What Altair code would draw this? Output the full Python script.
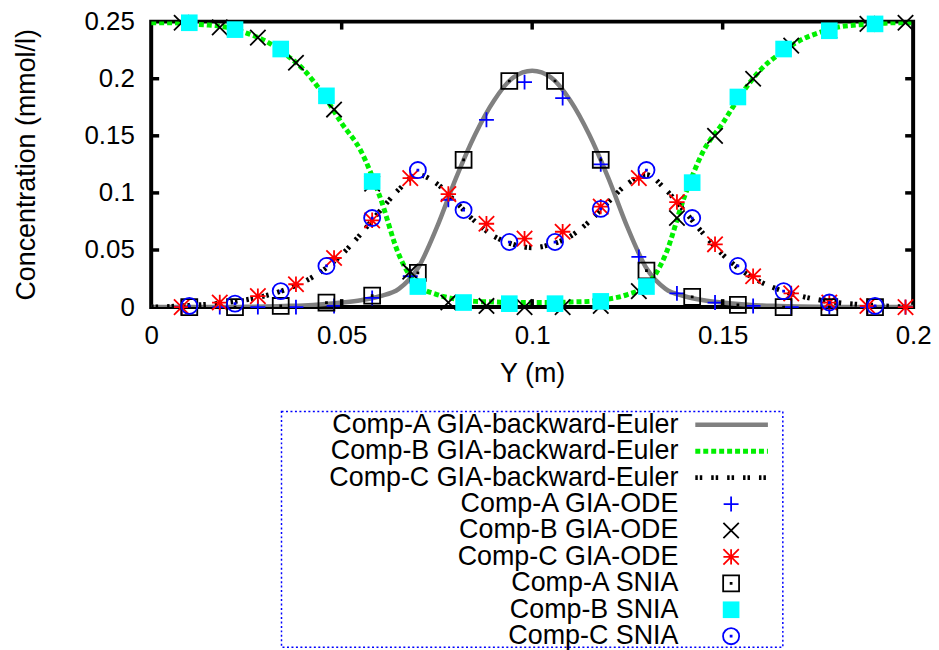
import altair as alt
import pandas as pd

# ---------------- data ----------------
line_x = [0.000, 0.005, 0.010, 0.015, 0.020, 0.025, 0.030, 0.035, 0.040, 0.045,
          0.050, 0.055, 0.060, 0.065, 0.070, 0.075, 0.080, 0.085, 0.090, 0.095,
          0.100, 0.105, 0.110, 0.115, 0.120, 0.125, 0.130, 0.135, 0.140, 0.145,
          0.150, 0.155, 0.160, 0.165, 0.170, 0.175, 0.180, 0.185, 0.190, 0.195, 0.200]
line_a = [0.0, 0.0, 0.0, 0.0, 0.0, 0.0003, 0.0005, 0.001, 0.0015, 0.0025,
          0.004, 0.006, 0.0095, 0.016, 0.034, 0.070, 0.113, 0.151, 0.181, 0.201,
          0.207, 0.201, 0.181, 0.151, 0.113, 0.070, 0.034, 0.016, 0.0095, 0.006,
          0.004, 0.0025, 0.0015, 0.001, 0.0005, 0.0003, 0.0, 0.0, 0.0, 0.0, 0.0]
line_b = [0.249, 0.249, 0.248, 0.247, 0.245, 0.240, 0.233, 0.222, 0.208, 0.187,
          0.161, 0.137, 0.097, 0.046, 0.019, 0.011, 0.007, 0.005, 0.0045, 0.004,
          0.004, 0.004, 0.0045, 0.005, 0.007, 0.011, 0.019, 0.046, 0.097, 0.137,
          0.161, 0.187, 0.208, 0.222, 0.233, 0.240, 0.245, 0.247, 0.248, 0.249, 0.249]
line_c = [0.0, 0.0005, 0.0015, 0.0025, 0.004, 0.0065, 0.010, 0.015, 0.022, 0.032,
          0.046, 0.064, 0.084, 0.103, 0.116, 0.108, 0.092, 0.075, 0.062, 0.055,
          0.052, 0.055, 0.062, 0.075, 0.092, 0.108, 0.116, 0.103, 0.084, 0.064,
          0.046, 0.032, 0.022, 0.015, 0.010, 0.0065, 0.004, 0.0025, 0.0015, 0.0005, 0.0]

ode_x = [0.008, 0.018, 0.028, 0.038, 0.048, 0.058, 0.068, 0.078, 0.088, 0.098,
         0.108, 0.118, 0.128, 0.138, 0.148, 0.158, 0.168, 0.178, 0.188, 0.198]
ode_a = [0.000, 0.000, 0.000, 0.000, 0.001, 0.008, 0.027, 0.094, 0.164, 0.197,
         0.183, 0.125, 0.044, 0.012, 0.004, 0.001, 0.000, 0.000, 0.000, 0.000]
ode_b = [0.249, 0.245, 0.236, 0.214, 0.173, 0.108, 0.031, 0.004, 0.001, 0.000,
         0.000, 0.001, 0.014, 0.078, 0.150, 0.200, 0.229, 0.242, 0.248, 0.249]
ode_c = [0.000, 0.004, 0.0096, 0.020, 0.043, 0.076, 0.113, 0.099, 0.073, 0.060,
         0.066, 0.088, 0.113, 0.092, 0.055, 0.027, 0.012, 0.004, 0.001, 0.000]

snia_x = [0.010, 0.022, 0.034, 0.046, 0.058, 0.070, 0.082, 0.094,
          0.106, 0.118, 0.130, 0.142, 0.154, 0.166, 0.178, 0.190]
snia_a = [0.000, 0.000, 0.001, 0.004, 0.010, 0.030, 0.129, 0.198,
          0.198, 0.129, 0.032, 0.009, 0.002, 0.000, 0.000, 0.000]
snia_b = [0.249, 0.243, 0.226, 0.185, 0.110, 0.018, 0.004, 0.003,
          0.003, 0.005, 0.018, 0.109, 0.184, 0.226, 0.242, 0.248]
snia_c = [0.001, 0.003, 0.014, 0.036, 0.078, 0.120, 0.085, 0.057,
          0.057, 0.086, 0.120, 0.078, 0.036, 0.014, 0.004, 0.001]

legend_labels = ["Comp-A GIA-backward-Euler", "Comp-B GIA-backward-Euler",
                 "Comp-C GIA-backward-Euler", "Comp-A GIA-ODE", "Comp-B GIA-ODE",
                 "Comp-C GIA-ODE", "Comp-A SNIA", "Comp-B SNIA", "Comp-C SNIA"]

x_ticks = [0, 0.05, 0.1, 0.15, 0.2]
y_ticks = [0, 0.05, 0.1, 0.15, 0.2, 0.25]
x_inner_ticks = [0.05, 0.1, 0.15]
y_inner_ticks = [0.05, 0.1, 0.15, 0.2]

# ---------------- styling ----------------
FONT = "Liberation Sans"
W, H = 766, 287
LEG_W, LEG_H = 504, 237
TICK_LEN = 8

PLUS = "M-1,0L1,0M0,-1L0,1"
CROSS = "M-1,-1L1,1M-1,1L1,-1"
STAR = "M-1,0L1,0M0,-1L0,1M-1,-1L1,1M-1,1L1,-1"
BOXDOT = "M-1,-1L1,-1L1,1L-1,1Z M-0.06,-0.06L0.06,-0.06L0.06,0.06L-0.06,0.06Z"
CIRCDOT = "M1,0A1,1,0,1,1,-1,0A1,1,0,1,1,1,0Z M-0.06,-0.06L0.06,-0.06L0.06,0.06L-0.06,0.06Z"

xscale = alt.Scale(domain=[0, 0.2], nice=False, zero=False)
yscale = alt.Scale(domain=[0, 0.25], nice=False, zero=False)

xaxis = alt.Axis(title="Y (m)", values=x_ticks, format="~g", domain=False, ticks=False,
                 grid=False, labelFont=FONT, labelFontSize=26, labelColor="black",
                 labelPadding=16, labelFlush=False, labelOverlap=False,
                 titleFont=FONT, titleFontSize=27, titleFontWeight="normal",
                 titleColor="black", titlePadding=12)
yaxis = alt.Axis(title="Concentration (mmol/l)", values=y_ticks, format="~g", domain=False,
                 ticks=False, grid=False, labelFont=FONT, labelFontSize=26,
                 labelColor="black", labelPadding=17, labelFlush=False, labelOverlap=False,
                 titleFont=FONT, titleFontSize=27, titleFontWeight="normal",
                 titleColor="black", titlePadding=44)


def X(field="x"):
    return alt.X(f"{field}:Q", scale=xscale, axis=xaxis)


def Y(field="y"):
    return alt.Y(f"{field}:Q", scale=yscale, axis=yaxis)


def line_layer(xs, ys, color, width, dash=None):
    df = pd.DataFrame({"x": xs, "y": ys})
    kw = dict(color=color, strokeWidth=width, interpolate="monotone", clip=True)
    if dash:
        kw["strokeDash"] = dash
    return alt.Chart(df).mark_line(**kw).encode(x=X(), y=Y())


def point_layer(xs, ys, shape, size, color, filled=False, sw=1.8):
    df = pd.DataFrame({"x": xs, "y": ys})
    kw = dict(shape=shape, size=size, color=color, filled=filled, opacity=1, clip=False)
    kw["strokeWidth"] = 0 if filled else sw
    return alt.Chart(df).mark_point(**kw).encode(x=X(), y=Y())


GRAY, GREEN, BLACK = "#808080", "#00f000", "#000000"
BLUE, RED, CYAN = "#0000ff", "#ff0000", "#00ffff"

series_lines = [
    (line_a, GRAY, 4.5, None),
    (line_b, GREEN, 5, [5, 3]),
    (line_c, BLACK, 5, [2.5, 2, 2.5, 9]),
]
series_points = [
    (ode_x, ode_a, PLUS, 225, BLUE, False),
    (ode_x, ode_b, CROSS, 240, BLACK, False),
    (ode_x, ode_c, STAR, 240, RED, False),
    (snia_x, snia_a, BOXDOT, 256, BLACK, False),
    (snia_x, snia_b, "square", 280, CYAN, True),
    (snia_x, snia_c, CIRCDOT, 262, BLUE, False),
]

layers = [line_layer(line_x, ys, c, w, d) for ys, c, w, d in series_lines]
layers += [point_layer(xs, ys, s, sz, c, f) for xs, ys, s, sz, c, f in series_points]

# inward ticks on all four sides
xt = pd.DataFrame({"x": x_inner_ticks})
yt = pd.DataFrame({"y": y_inner_ticks})
tick_kw = dict(color="black", strokeWidth=3.5)
layers += [
    alt.Chart(xt).mark_rule(**tick_kw).encode(x=X(), y=alt.value(H), y2=alt.value(H - TICK_LEN)),
    alt.Chart(xt).mark_rule(**tick_kw).encode(x=X(), y=alt.value(0), y2=alt.value(TICK_LEN)),
    alt.Chart(yt).mark_rule(**tick_kw).encode(y=Y(), x=alt.value(0), x2=alt.value(TICK_LEN)),
    alt.Chart(yt).mark_rule(**tick_kw).encode(y=Y(), x=alt.value(W - TICK_LEN), x2=alt.value(W)),
]

main = alt.layer(*layers).properties(
    width=W, height=H,
    view=alt.ViewBackground(stroke="black", strokeWidth=4),
)

# ---------------- key (gnuplot style: text right, sample left) ----------------
leg_df = pd.DataFrame({"row": list(range(len(legend_labels))), "label": legend_labels})
LY = alt.Y("row:Q", scale=alt.Scale(domain=[-0.5, 8.42], reverse=True, nice=False, zero=False),
           axis=None)
TEXT_X, SAMPLE_X1, SAMPLE_X2, SYMBOL_X = 399, 416, 489, 452

leg_layers = [
    alt.Chart(leg_df).mark_text(align="right", baseline="middle", font=FONT, fontSize=27,
                                color="black").encode(x=alt.value(TEXT_X), y=LY, text="label:N")
]
for i, (ys, c, w, d) in enumerate(series_lines):
    kw = dict(color=c, strokeWidth=w)
    if d:
        kw["strokeDash"] = d
    leg_layers.append(
        alt.Chart(leg_df).transform_filter(alt.datum.row == i).mark_rule(**kw).encode(
            y=LY, x=alt.value(SAMPLE_X1), x2=alt.value(SAMPLE_X2))
    )
for j, (xs, ys, s, sz, c, f) in enumerate(series_points):
    i = j + 3
    kw = dict(shape=s, size=sz, color=c, filled=f, opacity=1,
              strokeWidth=0 if f else 1.8)
    leg_layers.append(
        alt.Chart(leg_df).transform_filter(alt.datum.row == i).mark_point(**kw).encode(
            y=LY, x=alt.value(SYMBOL_X))
    )

legend = alt.layer(*leg_layers).properties(
    width=LEG_W, height=LEG_H,
    view=alt.ViewBackground(stroke=BLUE, strokeWidth=1.5, strokeDash=[2, 2.5]),
)

chart = alt.vconcat(main, legend, spacing=105, center=True, bounds="flush").properties(
    padding={"left": 10, "top": 5, "right": 5, "bottom": 0}
).configure(font=FONT)

chart.save("out.html", embed_options={"renderer": "svg", "actions": False})
